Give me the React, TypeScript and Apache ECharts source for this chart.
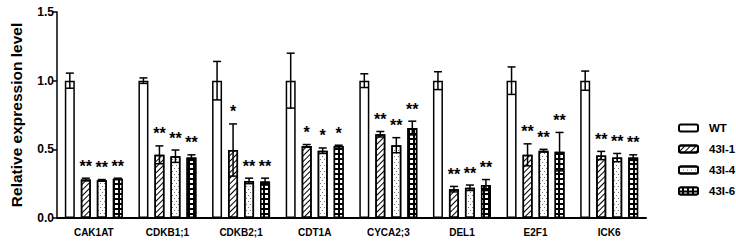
import React, { useEffect, useRef } from "react";
import * as echarts from "echarts";

const categories = ["CAK1AT", "CDKB1;1", "CDKB2;1", "CDT1A", "CYCA2;3", "DEL1", "E2F1", "ICK6"];
const seriesNames = ["WT", "43I-1", "43I-4", "43I-6"];

const wtValues = [1.0, 1.0, 1.0, 1.0, 1.0, 1.0, 1.0, 1.0];
const wtErrors = [0.055, 0.02, 0.14, 0.2, 0.05, 0.065, 0.1, 0.07];
const l1Values = [0.28, 0.46, 0.495, 0.525, 0.61, 0.21, 0.46, 0.455];
const l1Errors = [0.01, 0.065, 0.19, 0.01, 0.02, 0.02, 0.08, 0.03];
const l4Values = [0.275, 0.45, 0.27, 0.49, 0.53, 0.22, 0.49, 0.44];
const l4Errors = [0.005, 0.045, 0.02, 0.02, 0.055, 0.02, 0.01, 0.03];
const l6Values = [0.285, 0.44, 0.265, 0.525, 0.655, 0.24, 0.483, 0.44];
const l6Errors = [0.005, 0.02, 0.025, 0.005, 0.05, 0.04, 0.14, 0.02];

const l1Stars = ["**", "**", "*", "*", "**", "**", "**", "**"];
const l4Stars = ["**", "**", "**", "*", "**", "**", "**", "**"];
const l6Stars = ["**", "**", "**", "*", "**", "**", "**", "**"];

const yTicks = [0, 0.5, 1.0, 1.5];

export default function App() {
  const ref = useRef<HTMLDivElement>(null);

  useEffect(() => {
    if (!ref.current) return;
    const chart = echarts.init(ref.current, null, { renderer: "svg" });

    const values = [wtValues, l1Values, l4Values, l6Values];
    const errors = [wtErrors, l1Errors, l4Errors, l6Errors];
    const stars = [null, l1Stars, l4Stars, l6Stars];

    const barWidth = 10;
    const spacing = 16;

    const errData: any[] = [];
    for (let s = 0; s < 4; s++) {
      for (let c = 0; c < categories.length; c++) {
        errData.push([c, s, values[s][c], errors[s][c], stars[s] ? stars[s]![c] : ""]);
      }
    }

    const decals: any[] = [
      undefined,
      {
        symbol: "rect",
        symbolSize: 1,
        color: "#000",
        dashArrayX: [1, 0],
        dashArrayY: [0.9, 2.3],
        rotation: -Math.PI / 4,
      },
      {
        symbol: "rect",
        symbolSize: 1,
        color: "#777",
        dashArrayX: [[1, 3], [0, 2, 1, 1]],
        dashArrayY: [1, 2],
        rotation: 0,
      },
      {
        symbol: "rect",
        symbolSize: 1,
        color: "#fff",
        dashArrayX: [2.6, 1.2],
        dashArrayY: [2.6, 1.2],
        rotation: 0,
      },
    ];

    const barSeries = seriesNames.map((name, s) => ({
      name,
      type: "bar",
      barWidth,
      barGap: "60%",
      barCategoryGap: "20%",
      data: values[s],
      itemStyle: {
        color: s === 3 ? "#000" : "#fff",
        borderColor: "#000",
        borderWidth: 1.5,
        decal: decals[s],
      },
      emphasis: { disabled: true },
    }));

    const option: any = {
      animation: false,
      aria: { enabled: false, decal: { show: false } },
      grid: { left: 51, top: 12, right: 90, bottom: 27 },
      legend: {
        orient: "vertical",
        left: 673,
        top: 117,
        itemWidth: 19,
        itemHeight: 7,
        itemGap: 9,
        data: seriesNames,
        textStyle: {
          fontFamily: "Liberation Sans, Arial, sans-serif",
          fontWeight: "bold",
          fontSize: 11.5,
          color: "#000",
          padding: [0, 0, 0, 6],
        },
      },
      xAxis: {
        type: "category",
        data: categories,
        axisLine: { lineStyle: { color: "#000", width: 2 } },
        axisTick: { alignWithLabel: true, length: 4, lineStyle: { color: "#000", width: 1.5 } },
        axisLabel: {
          color: "#000",
          fontFamily: "Liberation Sans, Arial, sans-serif",
          fontWeight: "bold",
          fontSize: 10,
          margin: 9,
        },
      },
      yAxis: {
        type: "value",
        min: 0,
        max: 1.5,
        interval: 0.5,
        name: "Relative expression level",
        nameLocation: "middle",
        nameGap: 33,
        nameTextStyle: {
          color: "#000",
          fontFamily: "Liberation Sans, Arial, sans-serif",
          fontWeight: "bold",
          fontSize: 15.5,
        },
        splitLine: { show: false },
        axisLine: { show: true, lineStyle: { color: "#000", width: 1.5 } },
        axisTick: { show: true, length: 4, lineStyle: { color: "#000", width: 1.5 } },
        axisLabel: {
          color: "#000",
          fontFamily: "Liberation Sans, Arial, sans-serif",
          fontWeight: "bold",
          fontSize: 12,
          margin: 3,
          formatter: (v: number) => (yTicks.indexOf(v) >= 0 ? v.toFixed(1) : ""),
        },
      },
      series: [
        ...barSeries,
        {
          type: "custom",
          name: "errors",
          data: errData,
          z: 5,
          silent: true,
          itemStyle: { color: "#000" },
          encode: { x: 0, y: 2 },
          renderItem: (params: any, api: any) => {
            const c = api.value(0);
            const s = api.value(1);
            const v = api.value(2);
            const e = api.value(3);
            const star = errData[params.dataIndex][4];
            const center = api.coord([c, v]);
            const x = center[0] + (s - 1.5) * spacing;
            const top = api.coord([c, v + e])[1];
            const bot = api.coord([c, v - e])[1];
            const cap = 4;
            const ls = { stroke: "#000", lineWidth: 1.5 };
            const children: any[] = [
              { type: "line", shape: { x1: x, y1: top, x2: x, y2: bot }, style: ls },
              { type: "line", shape: { x1: x - cap, y1: top, x2: x + cap, y2: top }, style: ls },
              { type: "line", shape: { x1: x - cap, y1: bot, x2: x + cap, y2: bot }, style: ls },
            ];
            if (star) {
              children.push({
                type: "text",
                style: {
                  text: star,
                  x,
                  y: top - 4,
                  textAlign: "center",
                  textVerticalAlign: "bottom",
                  fontSize: 16,
                  fontWeight: "bold",
                  fontFamily: "Liberation Sans, Arial, sans-serif",
                  fill: "#000",
                },
              });
            }
            return { type: "group", children };
          },
        },
      ],
    };

    chart.setOption(option);
    return () => chart.dispose();
  }, []);

  return <div ref={ref} style={{ width: 736, height: 245, position: "absolute", left: 0, top: 0 }} />;
}
